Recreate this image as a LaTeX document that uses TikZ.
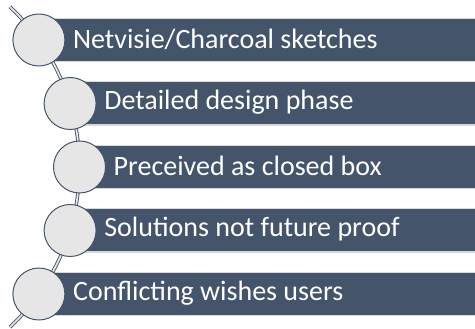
\documentclass[tikz,border=0pt]{standalone}
\usepackage{fontspec}
\setmainfont{Carlito}
\definecolor{slate}{HTML}{44546A}
\definecolor{pebble}{HTML}{E7E6E6}
\definecolor{rim}{HTML}{D9D9D9}
\begin{document}
\begin{tikzpicture}[x=1pt,y=1pt,
  label/.style={text=white,anchor=west,inner sep=0pt,font=\fontsize{28}{32}\selectfont},
  bead/.style={circle,fill=pebble,draw=slate,line width=1pt,minimum size=52pt,inner sep=0pt},
  spine/.style={draw=slate,line width=0.9pt,double=pebble,double distance=1.7pt},
  edge/.style={rim,line width=1.2pt}]
\useasboundingbox (0,0) rectangle (475,329);
% horizontal bars
\foreach \cx/\cy [count=\i] in {38.9/289, 70.1/225.5, 79.5/162, 70.1/98.5, 38.9/35}{
  \fill[slate] (\cx,\cy-21) rectangle (475,\cy+21);
  \draw[edge] (\cx,\cy+21.6) -- (475,\cy+21.6);
  \draw[edge] (\cx,\cy-21.6) -- (475,\cy-21.6);
  \coordinate (c\i) at (\cx,\cy);
}
% curved spine through the beads
\draw[spine] (-139.5,162) ++(47:219) arc[start angle=47,end angle=-47,radius=219];
% beads
\foreach \i in {1,...,5}{ \node[bead] (b\i) at (c\i) {}; }
% texts
\node[label] (t1) at ([xshift=34pt,yshift=1pt]c1) {Netvisie/Charcoal sketches};
\node[label] (t2) at ([xshift=34pt,yshift=1pt]c2) {Detailed design phase};
\node[label] (t3) at ([xshift=34pt,yshift=1pt]c3) {Preceived as closed box};
\node[label] (t4) at ([xshift=34pt,yshift=1pt]c4) {Solutions not future proof};
\node[label] (t5) at ([xshift=34pt,yshift=1pt]c5) {Conflicting wishes users};
\end{tikzpicture}
\end{document}
